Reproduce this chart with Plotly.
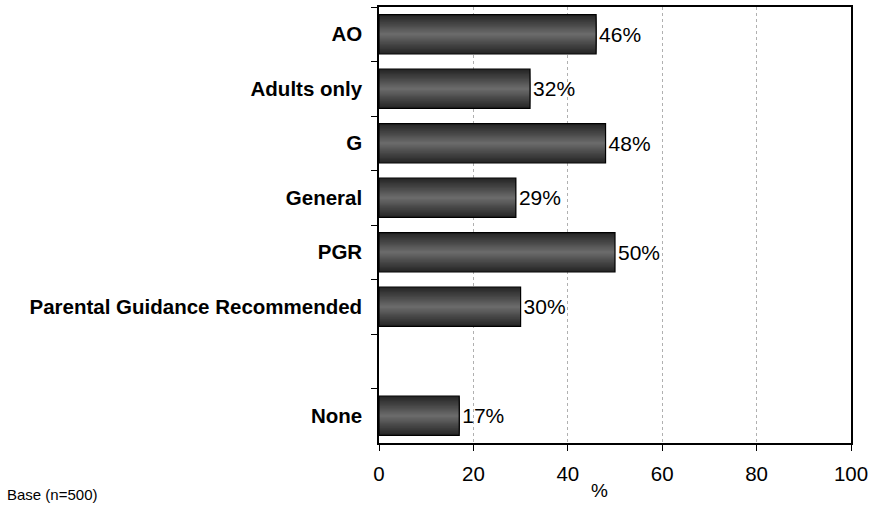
import plotly.graph_objects as go

# Ratings recognised by respondents (% of base)
categories = ["AO", "Adults only", "G", "General", "PGR",
              "Parental Guidance Recommended", " ", "None"]
values = [46, 32, 48, 29, 50, 30, None, 17]
x_ticks = [0, 20, 40, 60, 80, 100]
base_note = "Base (n=500)"

labels = [f"{v}%" if v is not None else "" for v in values]

FONT = "Liberation Sans, Arial, Helvetica, sans-serif"

fig = go.Figure()

# Shaded bars: stacked layers of narrowing width, darker at the edges
bar_width = 0.72
edge = (38, 38, 38)
centre = (106, 106, 106)
n_layers = 16
for k in range(n_layers):
    t = k / (n_layers - 1)
    c = tuple(int(edge[i] + (centre[i] - edge[i]) * t) for i in range(3))
    w = bar_width * (1 - k / n_layers)
    fig.add_trace(go.Bar(
        y=categories, x=values, orientation="h", width=w,
        marker=dict(color=f"rgb{c}", line=dict(width=0)),
        hoverinfo="skip", showlegend=False,
    ))

# Outline and value labels
fig.add_trace(go.Bar(
    y=categories, x=values, orientation="h", width=bar_width,
    marker=dict(color="rgba(0,0,0,0)", line=dict(color="black", width=1.2)),
    text=labels, textposition="outside", cliponaxis=False,
    textfont=dict(family=FONT, size=21, color="black"),
    showlegend=False,
))

plot_l, plot_r, plot_t, plot_b = 379, 21, 7, 66
plot_w = 872 - plot_l - plot_r
plot_h = 509 - plot_t - plot_b
axis_y = 509 - plot_b

fig.update_layout(
    barmode="overlay",
    width=872, height=509,
    margin=dict(l=plot_l, r=plot_r, t=plot_t, b=plot_b, autoexpand=False),
    plot_bgcolor="white", paper_bgcolor="white",
    font=dict(family=FONT, color="black"),
    xaxis=dict(
        range=[0, 100], tickvals=x_ticks, ticks="outside", ticklen=6,
        tickcolor="black", showline=True, linecolor="black", linewidth=1.5,
        mirror=True, showgrid=True, gridcolor="#b0b0b0", griddash="dot",
        gridwidth=1, zeroline=False, tickfont=dict(size=20.5),
        ticklabelstandoff=6, automargin=False,
    ),
    yaxis=dict(
        type="category", categoryorder="array", categoryarray=categories,
        autorange="reversed", tickson="boundaries", ticks="outside",
        ticklen=6, tickcolor="black", showline=True, linecolor="black",
        linewidth=1.5, mirror=True, showgrid=False,
        tickfont=dict(size=20.5, weight="bold"), ticklabelstandoff=11,
        automargin=False,
    ),
    annotations=[
        dict(text="%", x=(599 - plot_l) / plot_w, y=-(490 - axis_y) / plot_h,
             xref="paper", yref="paper", showarrow=False,
             font=dict(size=19), xanchor="center", yanchor="middle"),
        dict(text=base_note, x=(5 - plot_l) / plot_w, y=-(494 - axis_y) / plot_h,
             xref="paper", yref="paper", showarrow=False,
             font=dict(size=15), xanchor="left", yanchor="middle"),
    ],
)

fig.write_html("out.html")
